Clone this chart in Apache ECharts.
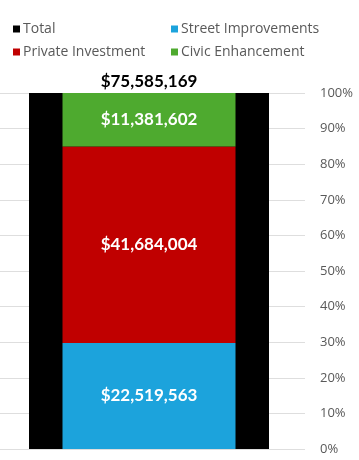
<!DOCTYPE html>
<html><head><meta charset="utf-8">
<script src="https://cdn.jsdelivr.net/npm/echarts@6/dist/echarts.min.js"></script>
<style>html,body{margin:0;padding:0;background:#fff}#c{width:359px;height:460px}</style>
</head><body><div id="c"></div>
<script>
const categories = [''];
const totalValue = 75585169;
const streetImprovements = [22519563];
const privateInvestment = [41684004];
const civicEnhancement = [11381602];
const yTicks = [0,10,20,30,40,50,60,70,80,90,100];

const pct = v => v / totalValue * 100;
const money = v => '$' + Math.round(v).toLocaleString('en-US');
const valLabel = {show:true, position:'inside', color:'#fff', fontFamily:'Lato', fontWeight:'bold', fontSize:17};

const chart = echarts.init(document.getElementById('c'));
chart.setOption({
  animation:false,
  legend:[
    {left:8, top:17, orient:'vertical', itemWidth:7, itemHeight:7, itemGap:9, icon:'rect',
     textStyle:{color:'#595959', fontFamily:'Open Sans', fontSize:14, padding:[0,0,0,-2]},
     data:['Total','Private Investment']},
    {left:166, top:17, orient:'vertical', itemWidth:7, itemHeight:7, itemGap:9, icon:'rect',
     textStyle:{color:'#595959', fontFamily:'Open Sans', fontSize:14, padding:[0,0,0,-2]},
     data:['Street Improvements','Civic Enhancement']}
  ],
  grid:[
    {left:0, right:54, top:93, bottom:11},
    {left:0, right:61, top:93, bottom:11}
  ],
  xAxis:[
    {type:'category', data:categories, show:false, gridIndex:0},
    {type:'category', data:categories, show:false, gridIndex:1},
    {type:'category', data:categories, show:false, gridIndex:1}
  ],
  yAxis:[
    {type:'value', gridIndex:0, position:'right', min:0, max:100, interval:10,
     axisLine:{show:false}, axisTick:{show:false},
     splitLine:{lineStyle:{color:'#dedede', width:1}},
     axisLabel:{margin:15, color:'#595959', fontFamily:'Open Sans', fontSize:13,
       formatter:v => yTicks.includes(v) ? v + '%' : ''}},
    {type:'value', gridIndex:1, min:0, max:100, interval:10, show:false, splitLine:{show:false}}
  ],
  series:[
    {name:'Total', type:'bar', xAxisIndex:1, yAxisIndex:1, barWidth:240, itemStyle:{color:'#000'},
     data:[pct(totalValue)],
     label:{show:true, position:'top', distance:3, color:'#000', fontFamily:'Lato', fontWeight:'bold', fontSize:17,
       formatter:() => money(totalValue)}},
    {name:'Street Improvements', type:'bar', stack:'s', xAxisIndex:2, yAxisIndex:1, barWidth:173, itemStyle:{color:'#1ca3dc'},
     data:streetImprovements.map(pct), label:Object.assign({}, valLabel, {formatter:p => money(streetImprovements[p.dataIndex])})},
    {name:'Private Investment', type:'bar', stack:'s', xAxisIndex:2, yAxisIndex:1, barWidth:173, itemStyle:{color:'#c00000'},
     data:privateInvestment.map(pct), label:Object.assign({}, valLabel, {formatter:p => money(privateInvestment[p.dataIndex])})},
    {name:'Civic Enhancement', type:'bar', stack:'s', xAxisIndex:2, yAxisIndex:1, barWidth:173, itemStyle:{color:'#4eaa2f'},
     data:civicEnhancement.map(pct), label:Object.assign({}, valLabel, {formatter:p => money(civicEnhancement[p.dataIndex])})}
  ]
});
</script></body></html>
